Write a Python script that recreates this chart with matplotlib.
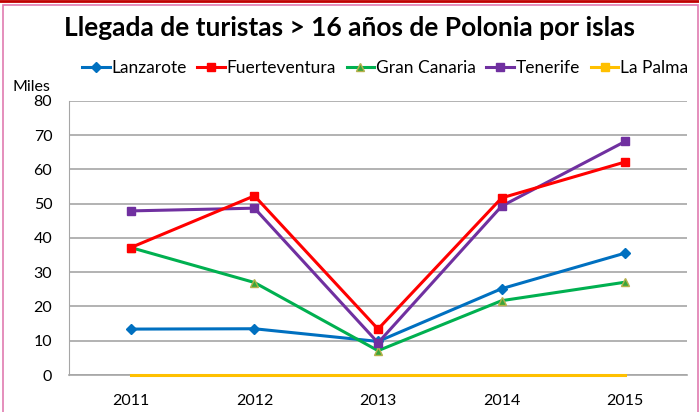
import matplotlib.pyplot as plt
from matplotlib.lines import Line2D
from matplotlib.patches import Rectangle

years = ['2011', '2012', '2013', '2014', '2015']
lanzarote = [13.4, 13.5, 9.8, 25.2, 35.6]
fuerteventura = [37.2, 52.3, 13.4, 51.7, 62.2]
gran_canaria = [37.2, 27.0, 7.1, 21.7, 27.1]
tenerife = [47.9, 48.7, 9.4, 49.3, 68.2]
la_palma = [0, 0, 0, 0, 0]

plt.rcParams['font.family'] = ['Lato', 'DejaVu Sans']

fig = plt.figure(figsize=(6.99, 4.12), dpi=100)
ax = fig.add_axes([0.0987, 0.0898, 0.8843, 0.6652])

x = range(len(years))
ax.plot(x, la_palma, color='#FFC000', lw=2.2, zorder=6, clip_on=False)
ax.plot(x, lanzarote, color='#0070C0', lw=2.2, marker='D', ms=5, zorder=3)
ax.plot(x, gran_canaria, color='#00B050', lw=2.2, marker='^', ms=6,
        mfc='#3AA63A', mec='#B5B04A', zorder=3)
ax.plot(x, tenerife, color='#7030A0', lw=2.2, marker='s', ms=6, zorder=4)
ax.plot(x, fuerteventura, color='#FF0000', lw=2.2, marker='s', ms=6, zorder=5)

ax.set_xlim(-0.5, 4.5)
ax.set_ylim(0, 80)
ax.set_yticks(range(0, 81, 10))
ax.set_xticks(list(x))
ax.set_xticklabels(years)
ax.tick_params(axis='both', length=0, labelsize=11.5)
ax.tick_params(axis='x', pad=14)
ax.tick_params(axis='y', pad=12)
ax.grid(axis='y', color='#A6A6A6', lw=1.2)
ax.set_axisbelow(True)
for s in ['top', 'right']:
    ax.spines[s].set_visible(False)
ax.spines['left'].set_color('#A6A6A6')
ax.spines['bottom'].set_color('#A6A6A6')
ax.spines['bottom'].set_linewidth(1.2)

handles = [
    Line2D([], [], color='#0070C0', lw=2.2, marker='D', ms=5),
    Line2D([], [], color='#FF0000', lw=2.2, marker='s', ms=6),
    Line2D([], [], color='#00B050', lw=2.2, marker='^', ms=6, mfc='#3AA63A', mec='#B5B04A'),
    Line2D([], [], color='#7030A0', lw=2.2, marker='s', ms=6),
    Line2D([], [], color='#FFC000', lw=2.2, marker='s', ms=6),
]
labels = ['Lanzarote', 'Fuerteventura', 'Gran Canaria', 'Tenerife', 'La Palma']
fig.legend(handles, labels, loc='center', bbox_to_anchor=(0.551, 0.835), ncol=5,
           frameon=False, fontsize=12.5, handlelength=1.6, handletextpad=0.1,
           columnspacing=0.6)

fig.text(0.5, 0.932, 'Llegada de turistas > 16 años de Polonia por islas',
         ha='center', va='center', fontsize=19, fontweight='bold')
fig.text(0.018, 0.788, 'Miles', fontsize=11.5, va='center')

fig.patches.append(Rectangle((0.004, -0.01), 0.995, 0.997, transform=fig.transFigure,
                             fill=False, ec='#E07BB0', lw=1.2))
fig.add_artist(Line2D([0, 1], [0.998, 0.998], transform=fig.transFigure,
                      color='#C00000', lw=2))

fig.savefig('out.png', dpi=100)
